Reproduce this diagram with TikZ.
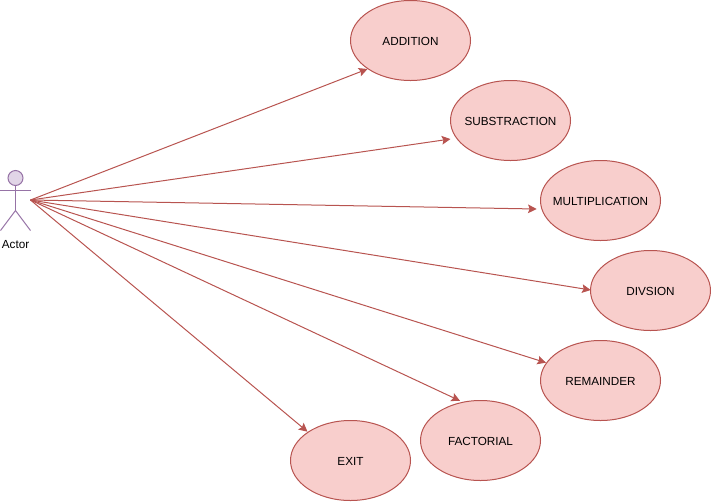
\documentclass[tikz,border=0pt]{standalone}
\usepackage{fontspec}
\setmainfont{Liberation Sans}
\usetikzlibrary{arrows.meta,shapes.geometric}
\definecolor{casefill}{HTML}{F8CECC}
\definecolor{caseline}{HTML}{B85450}
\definecolor{actorfill}{HTML}{E1D5E7}
\definecolor{actorline}{HTML}{9673A6}
\newcommand{\casetext}[1]{\smash{\raisebox{-3.5pt}{\makebox[0pt]{#1}}}}
\tikzset{
  usecase/.style={ellipse,draw=caseline,fill=casefill,line width=0.75pt,minimum width=90pt,minimum height=60pt,inner sep=0,outer sep=0,font=\fontsize{8.8}{11}\selectfont},
  usearrow/.style={draw=caseline,line width=0.75pt,-{Stealth[length=6.5pt,width=6.5pt,inset=1.2pt]}},
  stick/.style={draw=actorline,line width=0.75pt}
}
\begin{document}
\begin{tikzpicture}[x=0.75pt,y=-0.75pt]
  \useasboundingbox (0,0) rectangle (711,501);
  % actor
  \node [circle,draw=actorline,fill=actorfill,line width=0.75pt,minimum size=11.25pt,inner sep=0,outer sep=0] (head) at (15.5,178) {};
  \coordinate (armL) at (0.5,190.5);
  \coordinate (armR) at (30.5,190.5);
  \coordinate (hip) at (15.5,210.5);
  \coordinate (legL) at (0.5,230.5);
  \coordinate (legR) at (30.5,230.5);
  \coordinate (actor) at (30.5,200);
  \draw [stick] (head) -- (hip);
  \draw [stick] (armL) -- (armR);
  \draw [stick] (legL) -- (hip) -- (legR);
  \node [font=\fontsize{8.8}{11}\selectfont,inner sep=0] (actorlabel) at (15.6,244.2) {Actor};
  % use cases
  \foreach \name/\txt/\x/\y/\tipx/\tipy in {
    add/ADDITION/410.5/40.5/367.5/69,
    sub/SUBSTRACTION/510.5/120.5/450.5/139,
    mul/MULTIPLICATION/600.5/200.5/536.7/209,
    div/DIVSION/650.5/290.5/590.7/290,
    rem/REMAINDER/600.5/380.5/546/362.7,
    fac/FACTORIAL/480.5/440.5/460/400.8,
    exit/EXIT/350.5/460.5/307.5/431.7}{
    \node [usecase] (\name) at (\x,\y) {\casetext{\txt}};
    \coordinate (\name tip) at (\tipx,\tipy);
    \draw [usearrow] (actor) -- (\name tip);
  }
\end{tikzpicture}
\end{document}
